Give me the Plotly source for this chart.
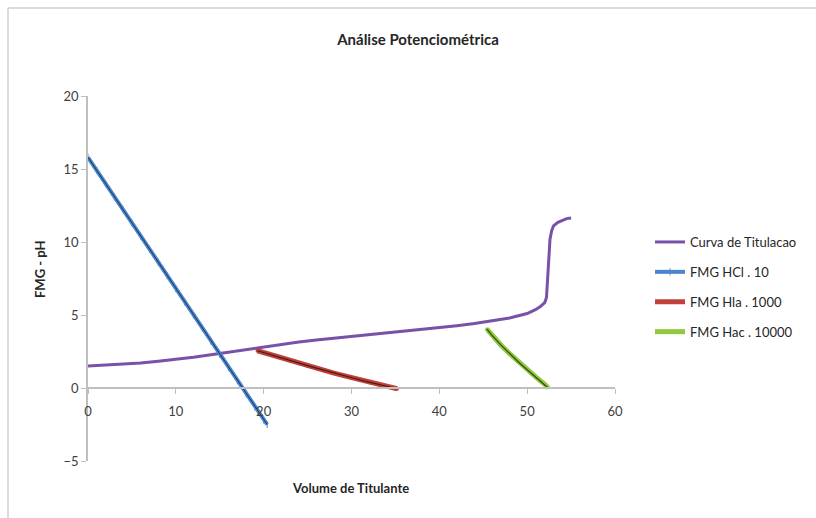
import plotly.graph_objects as go

# Titration curve
curva_x = [0, 2, 4, 6, 8, 10, 12, 14, 16, 18, 20, 22, 24, 26, 28, 30, 32, 34, 36, 38, 40,
           42, 44, 46, 48, 50, 51, 51.5, 52, 52.2, 52.4, 52.6, 52.8, 53, 53.5, 54, 54.5, 55]
curva_y = [1.50, 1.56, 1.63, 1.72, 1.83, 1.95, 2.10, 2.27, 2.45, 2.64, 2.84, 3.01, 3.15, 3.28,
           3.40, 3.52, 3.64, 3.76, 3.88, 4.00, 4.13, 4.27, 4.42, 4.59, 4.80, 5.10, 5.38, 5.58,
           5.85, 6.20, 8.00, 10.20, 10.80, 11.10, 11.35, 11.50, 11.60, 11.65]

# FMG HCl . 10
hcl_x = [0, 1, 2, 3, 4, 5, 6, 7, 8, 9, 10, 11, 12, 13, 14, 15, 16, 17, 18, 19, 20, 20.4]
hcl_y = [15.8, 14.9, 14.0, 13.1, 12.2, 11.3, 10.4, 9.5, 8.6, 7.7, 6.8, 5.9, 5.0, 4.1, 3.2,
         2.3, 1.4, 0.5, -0.4, -1.3, -2.2, -2.5]

# FMG Hla . 1000
hla_x = [19.3, 20, 21, 22, 23, 24, 25, 26, 27, 28, 29, 30, 31, 32, 33, 34, 35, 35.2]
hla_y = [2.55, 2.42, 2.24, 2.06, 1.88, 1.70, 1.53, 1.36, 1.19, 1.02, 0.86, 0.70, 0.55, 0.40,
         0.26, 0.12, -0.02, -0.05]

# FMG Hac . 10000
hac_x = [45.4, 46, 47, 48, 49, 50, 51, 52, 52.4]
hac_y = [4.05, 3.60, 2.95, 2.35, 1.78, 1.25, 0.75, 0.25, 0.0]

x_ticks = [0, 10, 20, 30, 40, 50, 60]
y_ticks = [-5, 0, 5, 10, 15, 20]

FONT = "Lato"

fig = go.Figure()
fig.add_trace(go.Scatter(x=curva_x, y=curva_y, mode="lines", name="Curva de Titulacao",
                         line=dict(color="#7851A9", width=3), legendgroup="a"))
fig.add_trace(go.Scatter(x=hcl_x, y=hcl_y, mode="lines+markers", name="FMG HCl . 10",
                         line=dict(color="#4A86D0", width=4),
                         marker=dict(symbol="line-ns", size=5, line=dict(color="#4A86D0", width=1)),
                         legendgroup="b"))
fig.add_trace(go.Scatter(x=hcl_x, y=hcl_y, mode="lines", showlegend=False,
                         line=dict(color="#1f3550", width=1), hoverinfo="skip"))
fig.add_trace(go.Scatter(x=hla_x, y=hla_y, mode="lines+markers", name="FMG Hla . 1000",
                         line=dict(color="#C0403A", width=5),
                         marker=dict(symbol="circle", size=4, color="#C0403A"),
                         legendgroup="c"))
fig.add_trace(go.Scatter(x=hla_x, y=hla_y, mode="lines", showlegend=False,
                         line=dict(color="#4a1a18", width=1.2), hoverinfo="skip"))
fig.add_trace(go.Scatter(x=hac_x, y=hac_y, mode="lines+markers", name="FMG Hac . 10000",
                         line=dict(color="#92C83E", width=5),
                         marker=dict(symbol="triangle-up", size=4, color="#92C83E"),
                         legendgroup="d"))
fig.add_trace(go.Scatter(x=hac_x, y=hac_y, mode="lines", showlegend=False,
                         line=dict(color="#2f4a14", width=1.2), hoverinfo="skip"))

W, H = 816, 518
L, R, T, B = 88, 201, 96, 57
pw, ph = W - L - R, H - T - B

def px(x):
    return (x - L) / pw

def py(y):
    return (H - B - y) / ph

fig.update_layout(
    width=W, height=H,
    margin=dict(l=L, r=R, t=T, b=B),
    paper_bgcolor="white", plot_bgcolor="white",
    font=dict(family=FONT, size=13, color="#404040"),
    title=dict(text="<b>Análise Potenciométrica</b>", x=418 / W, xanchor="center",
               y=1 - 40 / H, yanchor="middle", font=dict(size=15, color="#262626")),
    showlegend=True,
    legend=dict(x=px(650), xanchor="left", y=py(227), yanchor="top",
                font=dict(size=13, color="#262626"), tracegroupgap=10,
                bgcolor="rgba(0,0,0,0)", itemwidth=30),
    xaxis=dict(range=[0, 60], tickvals=x_ticks, showgrid=False, zeroline=False,
               showline=True, linecolor="#BFBFBF", linewidth=1.5,
               ticks="outside", ticklen=5, tickcolor="#BFBFBF",
               anchor="free", position=0.2, ticklabelstandoff=7,
               tickfont=dict(size=13, color="#404040")),
    yaxis=dict(range=[-5, 20], tickvals=y_ticks, showgrid=False, zeroline=False,
               showline=True, linecolor="#BFBFBF", linewidth=1.5,
               ticks="outside", ticklen=5, tickcolor="#BFBFBF",
               tickfont=dict(size=13, color="#404040")),
    annotations=[
        dict(text="<b>Volume de Titulante</b>", xref="paper", yref="paper",
             x=px(350), y=py(488), showarrow=False, xanchor="center", yanchor="middle",
             font=dict(size=13, color="#262626")),
        dict(text="<b>FMG - pH</b>", xref="paper", yref="paper", textangle=-90,
             x=px(40), y=py(270), showarrow=False, xanchor="center", yanchor="middle",
             font=dict(size=13, color="#262626")),
    ],
    shapes=[
        dict(type="line", xref="paper", yref="paper", x0=px(8), x1=px(830), y0=py(8), y1=py(8),
             line=dict(color="#D0D0D0", width=1.5)),
        dict(type="line", xref="paper", yref="paper", x0=px(8), x1=px(8), y0=py(8), y1=py(530),
             line=dict(color="#D0D0D0", width=1.5)),
    ],
)

fig.write_html("out.html")
